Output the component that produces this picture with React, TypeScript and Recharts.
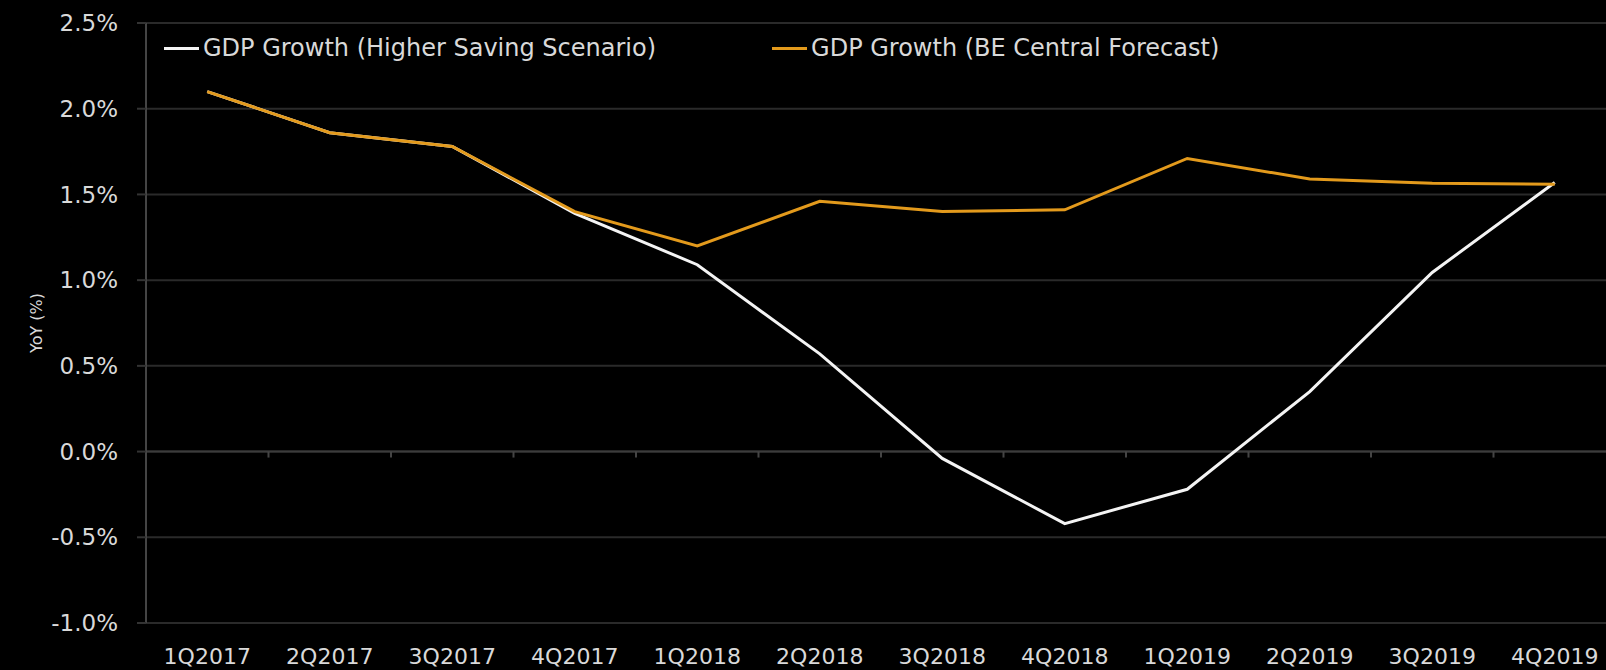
import { LineChart, Line, XAxis, YAxis, CartesianGrid, ReferenceLine } from "recharts"

const quarters = [
  "1Q2017", "2Q2017", "3Q2017", "4Q2017",
  "1Q2018", "2Q2018", "3Q2018", "4Q2018",
  "1Q2019", "2Q2019", "3Q2019", "4Q2019",
]
const higherSaving = [2.1, 1.86, 1.78, 1.39, 1.09, 0.57, -0.04, -0.42, -0.22, 0.35, 1.045, 1.57]
const centralForecast = [2.1, 1.86, 1.78, 1.4, 1.2, 1.46, 1.4, 1.41, 1.71, 1.59, 1.565, 1.56]
const yTicks = [-1, -0.5, 0, 0.5, 1, 1.5, 2, 2.5]

const SAVING_COLOR = "#f4f4f4"
const CENTRAL_COLOR = "#e39a1c"
const TEXT = "#d9d9d9"
const FONT = "'DejaVu Sans', sans-serif"

const data = quarters.map((q, i) => ({
  pos: i + 0.5,
  quarter: q,
  saving: higherSaving[i],
  central: centralForecast[i],
}))

const boundaries = quarters.slice(1).map((_, i) => i + 1)

const legendItems = [
  { label: "GDP Growth (Higher Saving Scenario)", color: SAVING_COLOR },
  { label: "GDP Growth (BE Central Forecast)", color: CENTRAL_COLOR },
]

function ChartLegend() {
  return (
    <div
      style={{
        position: "absolute",
        top: 34,
        left: 164,
        display: "flex",
        alignItems: "center",
        fontFamily: FONT,
        fontSize: 24,
        lineHeight: "28px",
        color: TEXT,
      }}
    >
      {legendItems.map((it, i) => (
        <div key={it.label} style={{ display: "flex", alignItems: "center", marginLeft: i === 0 ? 0 : 116 }}>
          <span style={{ display: "inline-block", width: 35, height: 3, background: it.color, marginRight: 4 }} />
          <span style={{ whiteSpace: "nowrap" }}>{it.label}</span>
        </div>
      ))}
    </div>
  )
}

export default function App() {
  return (
    <div
      style={{
        position: "fixed",
        top: 0,
        left: 0,
        width: 1606,
        height: 670,
        overflow: "hidden",
        background: "#000",
      }}
    >
      <LineChart width={1640} height={670} data={data} margin={{ top: 23, right: 24, left: 0, bottom: 0 }}>
        <CartesianGrid vertical={false} stroke="#2a2a2a" strokeWidth={2} />
        <XAxis
          dataKey="pos"
          type="number"
          domain={[0, 12]}
          ticks={data.map((d) => d.pos)}
          tickFormatter={(v) => quarters[Math.floor(v)]}
          interval={0}
          axisLine={false}
          tickLine={false}
          tickMargin={19}
          height={47}
          tick={{ fill: TEXT, fontSize: 22, fontFamily: FONT }}
        />
        <YAxis
          domain={[-1, 2.5]}
          ticks={yTicks}
          width={146}
          tickFormatter={(v) => `${v.toFixed(1)}%`}
          axisLine={{ stroke: "#444", strokeWidth: 2 }}
          tickLine={{ stroke: "#333", strokeWidth: 2 }}
          tickSize={9}
          tickMargin={19}
          tick={{ fill: TEXT, fontSize: 23, fontFamily: FONT }}
          label={{
            content: ({ viewBox }: any) => {
              const cy = viewBox.y + viewBox.height / 2
              return (
                <text
                  x={36}
                  y={cy}
                  transform={`rotate(-90, 36, ${cy})`}
                  textAnchor="middle"
                  dominantBaseline="central"
                  fill={TEXT}
                  fontSize={16}
                  fontFamily={FONT}
                >
                  YoY (%)
                </text>
              )
            },
          }}
        />
        <ReferenceLine y={0} stroke="#3c3c3c" strokeWidth={2} />
        {boundaries.map((b) => (
          <ReferenceLine
            key={b}
            segment={[{ x: b, y: 0 }, { x: b, y: -0.035 }]}
            stroke="#444"
            strokeWidth={2}
          />
        ))}
        <Line
          type="linear"
          dataKey="saving"
          stroke={SAVING_COLOR}
          strokeWidth={3}
          dot={false}
          isAnimationActive={false}
        />
        <Line
          type="linear"
          dataKey="central"
          stroke={CENTRAL_COLOR}
          strokeWidth={3}
          dot={false}
          isAnimationActive={false}
        />
      </LineChart>
      <ChartLegend />
    </div>
  )
}
